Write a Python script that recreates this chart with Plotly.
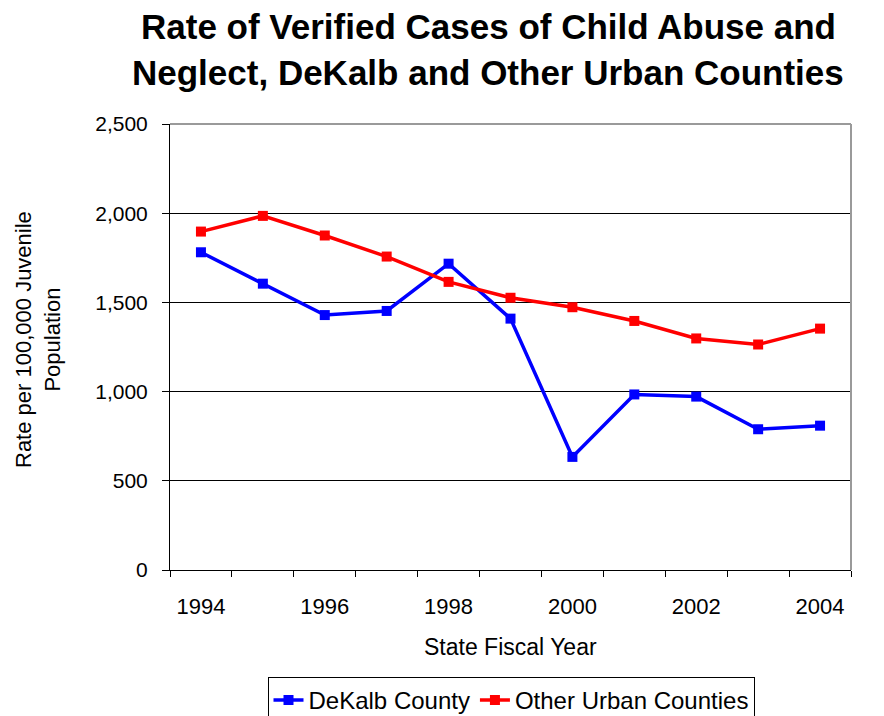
import plotly.graph_objects as go

years = [1994, 1995, 1996, 1997, 1998, 1999, 2000, 2001, 2002, 2003, 2004]
dekalb = [1781, 1605, 1429, 1452, 1717, 1409, 634, 984, 972, 789, 809]
other_urban = [1897, 1985, 1875, 1757, 1615, 1526, 1473, 1396, 1298, 1264, 1353]
year_labels = [1994, 1996, 1998, 2000, 2002, 2004]
y_ticks = [0, 500, 1000, 1500, 2000, 2500]

FONT = "Liberation Sans, Arial, sans-serif"
W, H = 884, 716
L, R, T, B = 170, 33, 124, 146
PH = H - T - B  # plot height in px


def py(px):
    """Convert a pixel row (from top) to paper y."""
    return 1 + (T - px) / PH


fig = go.Figure()
fig.add_trace(go.Scatter(
    x=years, y=dekalb, name="DeKalb County", mode="lines+markers",
    line=dict(color="#0000FF", width=3.5),
    marker=dict(symbol="square", size=10, color="#0000FF"),
))
fig.add_trace(go.Scatter(
    x=years, y=other_urban, name="Other Urban Counties", mode="lines+markers",
    line=dict(color="#FF0000", width=3.5),
    marker=dict(symbol="square", size=10, color="#FF0000"),
))

fig.update_layout(
    width=W, height=H,
    margin=dict(l=L, r=R, t=T, b=B, autoexpand=False),
    paper_bgcolor="white", plot_bgcolor="white",
    font=dict(family=FONT, color="black"),
    showlegend=True,
    legend=dict(
        orientation="h", x=(511 - L) / (W - L - R), xanchor="center", y=py(677), yanchor="top",
        xref="paper", yref="paper",
        bordercolor="black", borderwidth=1, bgcolor="white",
        font=dict(size=24, family=FONT), tracegroupgap=0,
    ),
)

fig.update_xaxes(
    range=[1993.5, 2004.5],
    tickvals=year_labels, ticktext=[str(y) for y in year_labels],
    ticks="", tickfont=dict(size=22), ticklabelstandoff=17,
    showgrid=False, zeroline=False,
    showline=True, linecolor="black", linewidth=1,
    minor=dict(ticks="outside", ticklen=6, tickcolor="black", tick0=1993.5, dtick=1, showgrid=False),
)
fig.update_yaxes(
    range=[0, 2500],
    tickvals=y_ticks, tickformat=",d",
    ticks="outside", ticklen=7, tickcolor="black", tickfont=dict(size=21),
    ticklabelstandoff=10,
    showgrid=True, gridcolor="black", gridwidth=1, zeroline=False,
    showline=True, linecolor="black", linewidth=1,
)

# chart title, two lines
title_lines = ["Rate of Verified Cases of Child Abuse and",
               "Neglect, DeKalb and Other Urban Counties"]
for text, row in zip(title_lines, [26, 72]):
    fig.add_annotation(text=f"<b>{text}</b>", xref="paper", yref="paper",
                       x=(488 - L) / (W - L - R), y=py(row),
                       xanchor="center", yanchor="middle", showarrow=False,
                       font=dict(size=35, family=FONT, color="black"))

# axis titles
fig.add_annotation(text="State Fiscal Year", xref="paper", yref="paper",
                   x=0.5, y=py(647), xanchor="center", yanchor="middle",
                   showarrow=False, font=dict(size=23, family=FONT))
fig.add_annotation(text="Rate per 100,000 Juvenile<br>Population", xref="paper", yref="paper",
                   x=(38 - L) / (W - L - R), y=py(340), xanchor="center", yanchor="middle",
                   textangle=-90, showarrow=False, font=dict(size=22, family=FONT))

# grey frame along the top and right edges of the plotting area
fig.add_shape(type="line", xref="paper", yref="paper", x0=0, x1=1, y0=1, y1=1,
              line=dict(color="#9A9A9A", width=2), layer="above")
fig.add_shape(type="line", xref="paper", yref="paper", x0=1, x1=1, y0=0, y1=1,
              line=dict(color="#9A9A9A", width=2), layer="above")

fig.write_html("out.html")
